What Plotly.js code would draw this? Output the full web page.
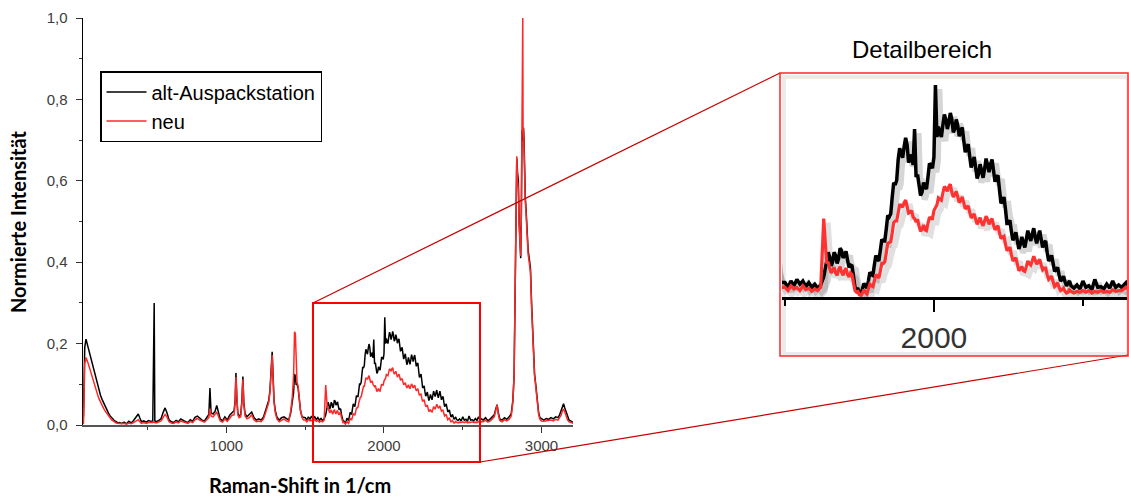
<!DOCTYPE html>
<html>
<head>
<meta charset="utf-8">
<script src="https://cdn.plot.ly/plotly-3.0.1.min.js"></script>
<style>html,body{margin:0;padding:0;background:#fff;}#chart{width:1129px;height:499px;}</style>
</head>
<body>
<div id="chart"></div>
<script>
// Raman shift (1/cm)
const ramanShift = [
  92,100,108,115,122,130,138,146,155,164,173,182,191,200,210,220,230,240,250,260,270,280,290,300,310,320,
  335,350,365,380,395,410,420,430,440,450,460,475,490,505,520,532,538,541,545,555,570,585,598,610,622,635,650,665,680,695,
  710,725,740,755,770,785,800,815,830,845,860,875,888,895,902,915,928,938,948,960,975,990,1005,1020,1035,
  1048,1055,1060,1066,1072,1080,1090,1098,1104,1110,1118,1130,1145,1160,1175,1190,1205,1220,1235,1248,
  1258,1268,1276,1284,1290,1296,1302,1310,1320,1335,1350,1365,1380,1395,1408,1418,1426,1432,1437,1442,1448,1455,1462,1470,1480,1490,
  1500,1510,1520,1530,1540,1550,1560,1570,1580,1590,1600,1610,1620,1630,
  1640,1645,1650,1655,1660,1665,1670,1675,1680,1685,
  1690,1695,1700,1705,1710,1715,1720,1725,1730,1735,
  1740,1745,1750,1755,1760,1765,1770,1775,1780,1785,
  1790,1795,1800,1805,1810,1815,1820,1825,1830,1835,
  1840,1845,1850,1855,1860,1865,1870,1875,1880,1885,
  1890,1895,1900,1905,1910,1915,1920,1925,1930,1935,
  1940,1945,1950,1955,1960,1965,1970,1975,1980,1985,
  1990,1995,2000,2005,2010,2015,2020,2025,2030,2035,
  2040,2045,2050,2055,2060,2065,2070,2075,2080,2085,
  2090,2095,2100,2105,2110,2115,2120,2125,2130,2135,
  2140,2145,2150,2155,2160,2165,2170,2175,2180,2185,
  2190,2195,2200,2205,2210,2215,2220,2225,2230,2235,
  2240,2245,2250,2255,2260,2265,2270,2275,2280,2285,
  2290,2295,2300,2305,2310,2315,2320,2325,2330,2335,
  2340,2345,2350,2355,2360,2365,2370,2375,2380,2385,
  2390,2395,2400,2405,2410,2415,2420,2425,2430,2435,
  2440,2445,2450,2455,2460,
  2470,2480,2490,2500,2510,2520,2530,2540,2550,2560,2570,2580,2590,2600,2610,2620,
  2630,2645,2660,2675,2690,2700,2710,2718,2726,2735,
  2750,2765,2780,2795,2808,2818,2826,2832,2838,2843,
  2848,2853,2858,2863,2868,2872,2876,2879,2881,2883,
  2886,2889,2893,2897,2902,2908,2915,2922,2930,2937,
  2944,2950,2956,2962,2968,2975,2982,2990,3000,3015,
  3030,3045,3060,3075,3090,3105,3115,3125,3133,3140,
  3148,3157,3166,3175,3185,3195,3203
];
// normalised intensity, series "alt-Auspackstation"
const altAuspackstation = [
  0.020,0.190,0.211,0.200,0.192,0.178,0.166,0.150,0.138,0.124,0.109,0.097,0.084,0.073,0.063,0.054,0.045,0.038,0.030,0.023,0.018,0.014,0.010,0.008,0.005,0.006,
  0.004,0.007,0.003,0.009,0.005,0.011,0.016,0.024,0.027,0.017,0.008,0.010,0.007,0.011,0.009,0.010,0.190,0.300,0.010,0.008,0.011,0.016,0.031,0.042,0.030,0.013,0.008,0.006,0.011,0.008,
  0.015,0.011,0.008,0.006,0.013,0.009,0.019,0.022,0.016,0.012,0.010,0.018,0.026,0.091,0.030,0.027,0.034,0.048,0.030,0.015,0.010,0.020,0.012,0.024,0.030,
  0.035,0.060,0.128,0.060,0.030,0.022,0.025,0.060,0.119,0.055,0.028,0.020,0.025,0.032,0.018,0.012,0.015,0.012,0.020,0.035,
  0.048,0.060,0.085,0.150,0.180,0.120,0.060,0.035,0.020,0.012,0.018,0.020,0.015,0.012,0.030,0.060,0.080,0.125,0.120,0.100,0.100,0.090,0.060,0.035,0.020,0.018,
  0.018,0.012,0.020,0.014,0.022,0.016,0.020,0.013,0.018,0.012,0.016,0.011,0.015,0.025,
  0.045,0.056,0.050,0.039,0.044,0.056,0.052,0.042,0.048,0.061,
  0.058,0.049,0.052,0.057,0.046,0.037,0.040,0.039,0.026,0.012,
  0.010,0.010,0.004,0.004,0.010,0.017,0.014,0.011,0.020,0.031,
  0.028,0.027,0.040,0.052,0.048,0.045,0.058,0.072,0.070,0.070,
  0.085,0.102,0.100,0.104,0.125,0.143,0.140,0.146,0.172,0.186,
  0.180,0.174,0.188,0.199,0.190,0.168,0.172,0.178,0.165,0.210,
  0.150,0.153,0.140,0.127,0.131,0.143,0.138,0.135,0.150,0.167,
  0.165,0.161,0.175,0.265,0.200,0.213,0.205,0.200,0.215,0.228,
  0.222,0.210,0.218,0.230,0.222,0.206,0.210,0.222,0.214,0.201,
  0.208,0.212,0.196,0.181,0.186,0.191,0.176,0.162,0.168,0.175,
  0.162,0.148,0.154,0.166,0.158,0.149,0.160,0.173,0.165,0.156,
  0.166,0.172,0.158,0.144,0.150,0.152,0.134,0.117,0.120,0.125,
  0.110,0.092,0.092,0.096,0.082,0.071,0.075,0.081,0.070,0.060,
  0.066,0.075,0.068,0.062,0.072,0.083,0.076,0.070,0.079,0.086,
  0.074,0.067,0.076,0.083,0.072,0.062,0.068,0.070,0.056,0.045,
  0.048,0.052,0.042,0.032,0.034,0.037,0.028,0.020,0.022,0.026,
  0.019,0.014,0.017,0.020,0.014,
  0.011,0.015,0.010,0.020,0.012,0.014,0.009,0.022,0.012,0.013,0.010,0.016,0.011,0.020,0.012,0.015,
  0.012,0.018,0.010,0.015,0.020,0.025,0.040,0.050,0.030,0.015,
  0.012,0.018,0.014,0.020,0.028,0.060,0.120,0.360,0.550,0.655,
  0.620,0.600,0.500,0.440,0.410,0.520,0.725,0.700,0.700,0.720,
  0.730,0.700,0.600,0.560,0.530,0.470,0.430,0.410,0.385,0.300,
  0.230,0.150,0.125,0.105,0.080,0.050,0.030,0.018,0.015,0.012,
  0.016,0.014,0.018,0.015,0.020,0.018,0.025,0.035,0.048,0.052,
  0.042,0.030,0.018,0.012,0.010,0.008,0.006
];
// normalised intensity, series "neu"
const neu = [
  0.002,0.150,0.166,0.160,0.151,0.141,0.130,0.119,0.106,0.096,0.084,0.074,0.064,0.056,0.048,0.041,0.034,0.028,0.022,0.017,0.013,0.010,0.007,0.005,0.004,0.003,
  0.003,0.004,0.002,0.005,0.003,0.006,0.008,0.012,0.013,0.008,0.004,0.006,0.004,0.006,0.005,0.006,0.007,0.007,0.006,0.005,0.007,0.010,0.019,0.026,0.020,0.008,0.005,0.004,0.008,0.005,
  0.010,0.008,0.005,0.004,0.009,0.006,0.013,0.016,0.012,0.009,0.007,0.013,0.018,0.040,0.022,0.020,0.026,0.032,0.022,0.010,0.007,0.015,0.009,0.018,0.024,
  0.025,0.055,0.118,0.050,0.025,0.018,0.020,0.055,0.112,0.050,0.022,0.015,0.018,0.025,0.012,0.008,0.010,0.008,0.015,0.030,
  0.042,0.055,0.080,0.140,0.172,0.110,0.055,0.030,0.015,0.008,0.012,0.015,0.010,0.008,0.035,0.070,0.120,0.229,0.225,0.130,0.105,0.095,0.062,0.035,0.018,0.012,
  0.012,0.008,0.014,0.010,0.012,0.008,0.014,0.009,0.011,0.007,0.010,0.008,0.012,0.098,
  0.042,0.044,0.036,0.030,0.033,0.037,0.030,0.027,0.034,0.038,
  0.031,0.027,0.033,0.036,0.028,0.025,0.030,0.028,0.018,0.008,
  0.006,0.007,0.003,0.002,0.005,0.009,0.006,0.004,0.010,0.016,
  0.014,0.013,0.020,0.028,0.026,0.024,0.032,0.042,0.042,0.044,
  0.055,0.067,0.068,0.069,0.080,0.093,0.095,0.095,0.105,0.115,
  0.115,0.112,0.118,0.121,0.113,0.105,0.106,0.108,0.100,0.098,
  0.094,0.097,0.089,0.082,0.085,0.090,0.084,0.083,0.092,0.100,
  0.098,0.098,0.108,0.112,0.115,0.124,0.122,0.121,0.130,0.138,
  0.136,0.132,0.138,0.141,0.131,0.125,0.128,0.132,0.125,0.118,
  0.121,0.125,0.118,0.110,0.112,0.114,0.106,0.099,0.101,0.104,
  0.097,0.091,0.095,0.099,0.093,0.089,0.095,0.101,0.097,0.091,
  0.095,0.098,0.090,0.084,0.087,0.089,0.080,0.073,0.075,0.076,
  0.066,0.058,0.060,0.062,0.053,0.045,0.047,0.049,0.041,0.033,
  0.035,0.038,0.033,0.032,0.038,0.045,0.042,0.040,0.045,0.051,
  0.046,0.041,0.044,0.047,0.040,0.034,0.036,0.036,0.028,0.022,
  0.024,0.026,0.019,0.013,0.015,0.018,0.012,0.008,0.009,0.011,
  0.007,0.005,0.006,0.009,0.007,
  0.005,0.007,0.006,0.008,0.006,0.008,0.005,0.007,0.006,0.008,0.006,0.007,0.006,0.009,0.007,0.008,
  0.008,0.012,0.007,0.010,0.015,0.020,0.036,0.049,0.026,0.011,
  0.008,0.013,0.010,0.014,0.022,0.055,0.120,0.360,0.560,0.660,
  0.600,0.580,0.490,0.430,0.415,0.520,0.720,0.740,1.000,0.730,
  0.720,0.680,0.580,0.550,0.520,0.460,0.420,0.400,0.375,0.290,
  0.220,0.140,0.120,0.100,0.075,0.045,0.025,0.014,0.010,0.009,
  0.010,0.012,0.012,0.010,0.014,0.012,0.018,0.025,0.035,0.039,
  0.032,0.022,0.012,0.008,0.006,0.005,0.004
];
const seriesNames = ['alt-Auspackstation', 'neu'];
const mainXRange = [89, 3200];
const detailXRange = [1490, 2648];
const detailYRange = [0, 0.275];

const W = 1129, H = 499;
const px = v => v / W;
const py = v => 1 - v / H;

// detail-panel scale (px per data unit) used to offset the drop shadow by a few pixels
const dxPerPx = (detailXRange[1] - detailXRange[0]) / (1127 - 782);
const dyPerPx = (detailYRange[1] - detailYRange[0]) / (297 - 77);
const SH = 4;

const BLACK = '#000000';
const RED = 'rgb(255,40,40)';
const tickFont = {family: 'Liberation Sans, Arial, sans-serif', size: 15, color: '#3c3c3c'};
const titleFont = {family: 'Lato, Open Sans, sans-serif', size: 20, color: '#000', weight: 700};

const traces = [
  {x: ramanShift, y: altAuspackstation, name: seriesNames[0], type: 'scatter', mode: 'lines',
   line: {color: BLACK, width: 1.5}, xaxis: 'x', yaxis: 'y'},
  {x: ramanShift, y: neu, name: seriesNames[1], type: 'scatter', mode: 'lines',
   line: {color: RED, width: 1.5}, xaxis: 'x', yaxis: 'y'},
  // drop shadow of the detail panel curves
  {x: ramanShift, y: altAuspackstation, type: 'scatter', mode: 'lines', showlegend: false, hoverinfo: 'skip',
   line: {color: 'rgba(0,0,0,0.16)', width: 6}, xaxis: 'x2', yaxis: 'y2'},
  {x: ramanShift, y: neu, type: 'scatter', mode: 'lines', showlegend: false, hoverinfo: 'skip',
   line: {color: 'rgba(0,0,0,0.12)', width: 6}, xaxis: 'x2', yaxis: 'y2'},
  // detail panel curves
  {x: ramanShift, y: altAuspackstation, name: seriesNames[0], type: 'scatter', mode: 'lines', showlegend: false,
   line: {color: BLACK, width: 3.5}, xaxis: 'x3', yaxis: 'y3'},
  {x: ramanShift, y: neu, name: seriesNames[1], type: 'scatter', mode: 'lines', showlegend: false,
   line: {color: 'rgb(255,50,50)', width: 3.2}, xaxis: 'x3', yaxis: 'y3'}
];

const hiddenAxis = {showgrid: false, zeroline: false, showline: false, showticklabels: false, ticks: '', fixedrange: true};

const layout = {
  width: W, height: H, autosize: false,
  margin: {l: 0, r: 0, t: 0, b: 0, pad: 0},
  paper_bgcolor: '#fff', plot_bgcolor: 'rgba(0,0,0,0)',
  separators: ',.',
  showlegend: true,
  legend: {x: px(100), y: py(71), xanchor: 'left', yanchor: 'top',
    bordercolor: '#000', borderwidth: 1.5, bgcolor: '#fff',
    font: {family: 'Liberation Sans, Arial, sans-serif', size: 20, color: '#000'},
    tracegroupgap: 0, itemwidth: 40},
  xaxis: {domain: [px(83), px(573)], range: mainXRange, anchor: 'y',
    showgrid: false, zeroline: false, showline: true, linecolor: '#555', linewidth: 2,
    ticks: 'outside', ticklen: 6, tickwidth: 1, tickcolor: '#333', dtick: 1000, tick0: 0,
    minor: {dtick: 500, tick0: 0, ticks: 'outside', ticklen: 3, tickcolor: '#333'},
    tickfont: tickFont, fixedrange: true},
  yaxis: {domain: [py(425), py(18)], range: [0, 1], anchor: 'x',
    showgrid: false, zeroline: false, showline: true, linecolor: '#000', linewidth: 1.5,
    ticks: 'outside', ticklen: 6, tickwidth: 1, tickcolor: '#333', dtick: 0.2, tick0: 0,
    tickformat: '.1f', ticklabelstandoff: 5,
    minor: {dtick: 0.1, tick0: 0, ticks: 'outside', ticklen: 3, tickcolor: '#333'},
    tickfont: tickFont, fixedrange: true},
  xaxis2: Object.assign({domain: [px(782), px(1127)], anchor: 'y2',
    range: [detailXRange[0] - SH * dxPerPx, detailXRange[1] - SH * dxPerPx]}, hiddenAxis),
  yaxis2: Object.assign({domain: [py(297), py(77)], anchor: 'x2',
    range: [detailYRange[0] + SH * dyPerPx, detailYRange[1] + SH * dyPerPx]}, hiddenAxis),
  xaxis3: {domain: [px(782), px(1127)], range: detailXRange, anchor: 'y3',
    showgrid: false, zeroline: false, showline: true, linecolor: '#000', linewidth: 3,
    ticks: 'outside', ticklen: 12, tickwidth: 2.5, tickcolor: '#000', dtick: 1000, tick0: 0,
    minor: {dtick: 500, tick0: 0, ticks: 'outside', ticklen: 6, tickwidth: 2.5, tickcolor: '#000'},
    tickfont: {family: 'Liberation Sans, Arial, sans-serif', size: 30, color: '#333'}, fixedrange: true},
  yaxis3: Object.assign({domain: [py(297), py(77)], range: detailYRange, anchor: 'x3'}, hiddenAxis),
  shapes: [
    {type: 'rect', xref: 'paper', yref: 'paper', x0: px(784), y0: py(77), x1: px(1128), y1: py(354),
     line: {color: 'rgba(0,0,0,0.08)', width: 4}, layer: 'below'},
    {type: 'rect', xref: 'paper', yref: 'paper', x0: px(313), y0: py(303), x1: px(480), y1: py(462),
     line: {color: 'rgb(255,0,0)', width: 2}},
    {type: 'line', xref: 'paper', yref: 'paper', x0: px(313), y0: py(303), x1: px(780), y1: py(73),
     line: {color: 'rgb(200,0,0)', width: 1.2}},
    {type: 'line', xref: 'paper', yref: 'paper', x0: px(480), y0: py(462), x1: px(1128), y1: py(355),
     line: {color: 'rgb(200,0,0)', width: 1.2}},
    {type: 'rect', xref: 'paper', yref: 'paper', x0: px(780), y0: py(73), x1: px(1128), y1: py(356),
     line: {color: 'rgb(255,40,40)', width: 1.5}}
  ],
  annotations: [
    {text: 'Detailbereich', xref: 'paper', yref: 'paper', x: px(922), y: py(50), xanchor: 'center', yanchor: 'middle',
     showarrow: false, font: {family: 'Liberation Sans, Arial, sans-serif', size: 24, color: '#000'}},
    {text: 'Normierte Intensität', xref: 'paper', yref: 'paper', x: px(18), y: py(222), xanchor: 'center', yanchor: 'middle',
     textangle: -90, showarrow: false, font: titleFont},
    {text: 'Raman-Shift in 1/cm', xref: 'paper', yref: 'paper', x: px(300), y: py(485), xanchor: 'center', yanchor: 'middle',
     showarrow: false, font: titleFont}
  ]
};

Plotly.newPlot('chart', traces, layout, {staticPlot: true, displayModeBar: false});
</script>
</body>
</html>
